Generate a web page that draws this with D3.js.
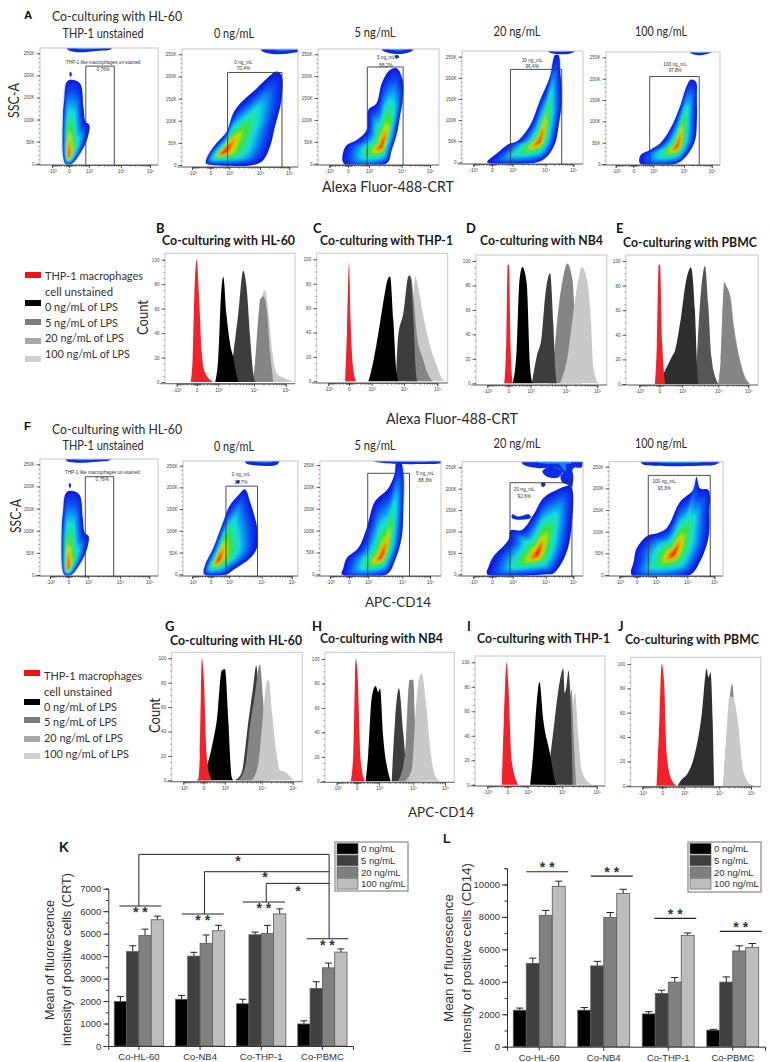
<!DOCTYPE html>
<html><head><meta charset="utf-8">
<script src="https://cdnjs.cloudflare.com/ajax/libs/d3/7.8.5/d3.min.js"></script>
<style>html,body{margin:0;padding:0;background:#fff}svg{display:block}</style></head>
<body><svg id="c" width="770" height="1062"></svg>
<script>
/* ---------- DATA: flow density outlines, [biex decade unit, SSC in K] ---------- */
const outlineA0=[[-.2,0],[-.35,106],[-.28,144],[-.12,186],[.13,190],[.55,182],[.72,129],[.83,95],[1.01,88],[.92,57],[.55,23],[.13,0]];
const outlineA1=[[-.23,4],[-.1,23],[.33,49],[.86,75],[1.13,117],[1.35,139],[1.89,173],[2.28,198],[2.56,211],[2.73,203],[2.73,147],[2.51,87],[2.34,41],[2.11,11],[1.78,0],[.16,0]];
const outlineA2=[[-.22,0],[-.14,39],[.41,54],[.89,77],[.97,123],[1.23,138],[1.39,184],[1.64,214],[1.85,218],[2.03,191],[2.03,146],[1.94,107],[1.85,69],[1.69,31],[1.54,1]];
const outlineA3=[[-.26,0],[-.18,6],[.23,21],[.79,43],[1.12,49],[1.53,88],[1.83,147],[2.16,203],[2.34,254],[2.46,254],[2.52,219],[2.58,147],[2.46,84],[2.34,45],[2.04,13],[1.73,0]];
const outlineA4=[[.33,2],[.37,21],[.83,33],[1.22,48],[1.54,80],[1.87,134],[2.09,181],[2.25,198],[2.43,193],[2.46,158],[2.46,95],[2.4,56],[2.16,25],[1.78,2]];
const outlineF1=[[-.35,0],[-.3,21],[.14,60],[.68,121],[1.02,159],[1.28,182],[1.48,196],[1.64,167],[1.87,102],[1.85,60],[1.64,37],[1.12,10],[.86,0]];
const outlineF2=[[-.38,0],[-.3,14],[-.12,37],[.48,60],[.91,105],[1.19,166],[1.59,197],[1.78,231],[1.83,258],[1.95,258],[2.03,231],[2.03,146],[1.98,85],[1.78,31],[1.54,0]];
const outlineF3=[[-.26,0],[-.18,18],[.06,41],[.79,80],[.9,103],[1.27,103],[1.63,139],[1.93,178],[2.4,197],[2.9,205],[2.93,107],[2.72,45],[2.28,2],[2.04,0]];
const outlineF4=[[-.29,0],[-.17,31],[0,62],[.6,92],[1.02,96],[1.34,108],[1.77,169],[2.22,196],[2.34,227],[2.47,200],[2.78,196],[2.82,146],[2.78,85],[2.47,31],[2.1,0]];
/* density core and ridge tip [u, K] */
const ridges={A0:[[-.03,14],[.0,58]],A1:[[.6,27],[1.9,78]],A2:[[1.39,40],[1.7,95]],A3:[[1.81,50],[2.02,92]],A4:[[1.78,42],[2.0,95]],
 F0:[[-.03,14],[.0,58]],F1:[[.32,29],[1.05,88]],F2:[[1.39,40],[1.72,88]],F3:[[1.74,47],[2.02,100]],F4:[[1.55,48],[1.9,88]]};
/* off-scale events along the top of each plot and stray islands */
const topBlobA0=[[-.1,270],[-.1,259],[.3,253],[1.3,256],[1.7,260],[1.7,270]];
const topBlobA1=[[2.05,270],[2.05,258],[2.6,250],[3.2,254],[3.6,258],[3.6,270]];
const topBlobA2=[[1.4,270],[1.4,260],[1.7,252],[2.1,252],[2.4,260],[2.4,270]];
const topBlobA3=[[2.1,270],[2.1,262],[2.5,256],[3,260],[3.1,270]];
const topBlobA4=[[2.2,270],[2.2,262],[2.5,255],[3,262],[3.1,270]];
const topBlobF0=[[-.1,270],[-.1,258],[.3,254],[1.3,256],[1.7,260],[1.7,270]];
const topBlobF1=[[1.5,270],[1.5,257],[2,250],[2.5,252],[2.6,262],[2.6,270]];
const topBlobF2=[[.9,270],[1.1,260],[1.6,254],[2.4,252],[3.6,258],[3.6,270]];
const topBlobF3=[[1.3,270],[1.3,258],[1.8,248],[2.5,246],[2.85,205],[2.95,205],[3,248],[3.3,250],[3.3,270]];
const topBlobF4=[[.2,270],[.3,256],[1,252],[2.4,252],[3.1,256],[3.3,270]];
const islandsA0=[[[.02,204],[.08,208],[.14,203],[.08,196]]];
const islandsA2=[[[1.78,246],[1.86,249],[1.92,244],[1.84,240]]];
const islandsF1=[[[1.2,212],[1.28,217],[1.33,214],[1.26,209]]];
const islandsF3=[[[.98,140],[1.15,135],[1.5,140],[1.55,132],[1.1,128],[.95,133]],[[1.9,240],[2.15,252],[2.6,240],[2.45,226],[2.05,228]],[[1.85,210],[1.92,215],[2,210],[1.92,204]],[[2.55,232],[2.95,240],[2.95,210],[2.6,215]]];
const islandsF0=islandsA0;
const gates={A0:[.84,1.79,221],A1:[.91,2.75,209],A2:[.92,2.05,221],A3:[.89,2.58,220],A4:[.82,2.55,205],
 F0:[.85,1.8,222],F1:[.82,1.87,203],F2:[.97,2.26,231],F3:[.87,2.95,214],F4:[.6,2.85,230]};
const gateNames=["THP-1 like macrophages un-stained","0 ng_mL","5 ng_mL","20 ng_mL","100 ng_mL"];
const gatePctA=["0,76%","70,4%","88,2%","96,4%","97,8%"];
const gatePctF=["0,76%","39,7%","88,3%","92,6%","93,3%"];
const doseHeads=["THP-1 unstained","0 ng/mL","5 ng/mL","20 ng/mL","100 ng/mL"];
const flowTickLabels=["-10³","0","10³","10⁴","10⁵"];
const sscTicks=[0,50,100,150,200,250];
const countTicks=[0,20,40,60,80,100];

/* ---------- DATA: histograms [decade unit, count], listed in painting order ---------- */
const histB=[["light",[[2,0],[2.14,53],[2.35,75],[2.46,56],[2.57,26],[2.72,7],[2.98,3],[3.24,0]]],
["mid",[[1.96,0],[2.03,15],[2.14,53],[2.2,68],[2.3,70],[2.4,59],[2.51,23],[2.61,0]]],
["dark",[[1.32,0],[1.42,23],[1.56,56],[1.7,91],[1.79,78],[1.89,37],[1.98,7],[2.03,0]]],
["black",[[.85,0],[1,20],[1.07,68],[1.14,86],[1.23,55],[1.33,31],[1.42,20],[1.5,7],[1.56,0]]],
["red",[[-.3,0],[-.2,20],[-.12,70],[0,100],[.11,70],[.23,25],[.38,8],[.77,0]]]];
const histC=[["light",[[2.1,0],[2.25,60],[2.34,86],[2.42,78],[2.55,58],[2.75,32],[2.93,17],[3.18,1],[3.25,0]]],
["mid",[[2.05,0],[2.15,50],[2.22,85],[2.3,65],[2.4,35],[2.55,20],[2.7,7],[2.85,0]]],
["dark",[[1.75,0],[1.82,37],[1.98,56],[2.13,86],[2.18,87],[2.28,53],[2.36,7],[2.4,0]]],
["black",[[.85,0],[.93,5],[1.21,40],[1.36,65],[1.52,85],[1.57,86],[1.67,50],[1.77,7],[1.82,0]]],
["red",[[-.19,0],[-.1,40],[0,97],[.07,50],[.16,15],[.31,0]]]];
const histD=[["mid",[[1.5,0],[1.64,19],[1.78,60],[1.92,87],[2.04,98],[2.21,84],[2.27,60],[2.4,20],[2.5,0]]],
["light",[[1.83,0],[2.07,25],[2.23,57],[2.39,84],[2.5,95],[2.66,86],[2.79,55],[2.87,14],[3.03,0]]],
["dark",[[1.03,0],[1.17,22],[1.31,38],[1.42,74],[1.55,90],[1.64,49],[1.69,14],[1.74,0]]],
["black",[[.2,0],[.37,27],[.49,82],[.63,95],[.82,82],[.97,14],[1.05,0]]],
["red",[[-.19,0],[-.1,33],[-.03,97],[.03,97],[.1,33],[.2,0]]]];
const histE=[["light",[[2,0],[2.08,19],[2.2,78],[2.3,76],[2.42,70],[2.52,49],[2.74,19],[2.96,3],[3.08,0]]],
["mid",[[2,0],[2.08,19],[2.2,83],[2.28,79],[2.39,72],[2.5,49],[2.72,19],[2.94,3],[3.05,0]]],
["slate",[[1.36,0],[1.4,17],[1.44,41],[1.54,82],[1.63,96],[1.72,65],[1.81,22],[1.95,3],[2,0]]],
["char",[[-.04,0],[.25,11],[.54,22],[.68,27],[.9,49],[1.12,86],[1.24,95],[1.35,60],[1.42,8],[1.44,0]]],
["red",[[-.22,0],[-.12,33],[-.03,97],[.03,97],[.13,33],[.25,0]]]];
const histG=[["dark",[[1.27,0],[1.45,6],[1.64,49],[1.77,77],[1.85,94],[1.91,77],[2,22],[2.09,0]]],
["mid",[[1.36,0],[1.55,11],[1.68,44],[1.82,71],[1.95,95],[2.04,68],[2.13,33],[2.27,0]]],
["light",[[1.73,0],[1.91,14],[2.04,52],[2.17,81],[2.23,82],[2.34,54],[2.48,22],[2.59,8],[2.75,7],[3.02,0]]],
["black",[[-.33,0],[.15,11],[.46,33],[.62,49],[.85,90],[1,91],[1.09,49],[1.18,3],[1.23,0]]],
["red",[[-.25,0],[-.17,22],[-.07,100],[.03,82],[.15,22],[.31,3],[.46,0]]]];
const histH=[["dark",[[1.37,0],[1.47,50],[1.58,76],[1.71,39],[1.8,10],[1.9,0]]],
["mid",[[1.56,0],[1.76,23],[1.83,61],[1.89,83],[2,83],[2.05,50],[2.1,17],[2.19,0]]],
["light",[[1.76,0],[1.95,9],[2.1,67],[2.2,86],[2.27,88],[2.4,64],[2.55,23],[2.7,4],[2.85,0]]],
["black",[[.4,0],[.52,23],[.67,68],[.85,78],[.97,73],[1.03,76],[1.12,37],[1.27,7],[1.34,0]]],
["red",[[-.3,0],[-.17,23],[-.05,100],[.03,91],[.18,17],[.37,0]]]];
const histI=[["light",[[2.17,0],[2.24,39],[2.37,75],[2.46,42],[2.56,12],[2.8,1],[2.9,0]]],
["mid",[[2.07,0],[2.17,53],[2.27,78],[2.33,39],[2.4,0]]],
["dark",[[1.55,0],[1.64,20],[1.78,53],[1.9,80],[2.03,95],[2.07,75],[2.12,80],[2.18,93],[2.24,67],[2.3,0]]],
["black",[[1.07,0],[1.16,26],[1.26,67],[1.34,84],[1.45,53],[1.64,26],[1.78,4],[1.83,0]]],
["red",[[-.28,0],[-.17,53],[-.03,100],[.05,83],[.21,20],[.54,0]]]];
const histJ=[["mid",[[2.12,0],[2.28,54],[2.4,84],[2.51,54],[2.65,16],[2.9,2],[3.1,0]]],
["light",[[2.12,0],[2.22,40],[2.32,73],[2.42,73],[2.58,54],[2.75,13],[3,0]]],
["char",[[.7,0],[.88,5],[1.07,9],[1.3,26],[1.5,59],[1.64,96],[1.69,89],[1.75,93],[1.81,54],[1.85,0]]],
["red",[[-.29,0],[-.18,40],[-.03,100],[.08,86],[.2,26],[.42,5],[.65,0]]]];
const legendLabels=["THP-1 macrophages","cell unstained","0 ng/mL of LPS","5 ng/mL of LPS","20 ng/mL of LPS","100 ng/mL of LPS"];

/* ---------- DATA: bar panels ---------- */
const groups=["Co-HL-60","Co-NB4","Co-THP-1","Co-PBMC"];
const doses=["0 ng/mL","5 ng/mL","20 ng/mL","100 ng/mL"];
const crtMeans=[[1980,4200,4920,5620],[2080,4000,4570,5130],[1880,4950,5010,5880],[980,2560,3480,4180]];
const crtErrors=[[220,260,280,160],[170,170,370,240],[200,120,360,220],[140,300,210,140]];
const cd14Means=[[2250,5130,8100,9880],[2250,4980,7970,9440],[2020,3280,3980,6860],[1020,3980,5900,6120]];
const cd14Errors=[[130,330,300,320],[160,280,300,260],[140,200,280,150],[50,320,320,240]];
const crtTicks=[0,1000,2000,3000,4000,5000,6000,7000];
const cd14Ticks=[0,2000,4000,6000,8000,10000];
const crtSigLevels=[6229,5873,6407,4775];
const cd14SigLevels=[10780,10513,7906,7105];
const crtBracketLevels=[8527,7756,7237];

/* ---------- styles & layout ---------- */
const svg=d3.select("#c");
const defs=svg.append("defs");
defs.append("filter").attr("id","b1").attr("x","-5%").attr("y","-5%").attr("width","110%").attr("height","110%").append("feGaussianBlur").attr("stdDeviation",1.1);
defs.append("filter").attr("id","b0").attr("x","-5%").attr("y","-5%").attr("width","110%").attr("height","110%").append("feGaussianBlur").attr("stdDeviation",.35);
const CAL="Lato, 'Open Sans', sans-serif", ARIAL="'Liberation Sans', Arial, sans-serif";
const histColors={red:"#f2232b",black:"#000",char:"#2e2e2e",dark:"#3c3c3c",slate:"#565656",mid:"#858585",light:"#c9c9c9"};
const densityColor=d3.scaleLinear().domain([0,.13,.3,.42,.55,.68,.78,.88,1]).range(["#0c1ee0","#0a46f2","#0a9cf2","#14dede","#28e28a","#46e024","#cfe400","#fb8a00","#ee1414"]);
function label(t,x,y,o={}){
  const n=svg.append("text").text(t).attr("x",0).attr("y",0).attr("font-family",o.font||CAL).attr("font-size",o.size||12)
   .attr("fill",o.fill||"#2a2a2a").attr("font-weight",o.bold?"bold":"normal").attr("text-anchor",o.anchor||"start");
  if(o.w) n.attr("textLength",o.w).attr("lengthAdjust","spacingAndGlyphs");
  n.attr("transform",`translate(${x},${y})`+(o.rot?` rotate(${o.rot})`:""));
  return n;
}
const biexMinor=[...d3.range(-.18,.2,.04),...[2,3,4,5,6,7,8,9].flatMap(m=>[Math.log10(m),-Math.log10(m),1+Math.log10(m),2+Math.log10(m)])];
let clipN=0;
function frameAxes(g,p,x,y,yTicks,yFmt,yMinor){
  g.append("rect").attr("x",p.f[0]).attr("y",p.f[2]).attr("width",p.f[1]-p.f[0]).attr("height",p.f[3]-p.f[2]).attr("fill","none").attr("stroke","#c6c6c6").attr("stroke-width",1);
  const xa=g.append("g").attr("transform",`translate(0,${p.f[3]})`);
  const xM=xa.append("g").call(d3.axisBottom(x).tickValues(biexMinor).tickSize(1.8).tickFormat(""));
  xM.select(".domain").remove();xM.selectAll("line").attr("stroke","#222").attr("stroke-width",.55);
  const xMaj=xa.append("g").call(d3.axisBottom(x).tickValues([-1,0,1,2,3]).tickSize(3).tickPadding(1.5).tickFormat((d,i)=>flowTickLabels[i]));
  xMaj.select(".domain").attr("stroke","#333").attr("stroke-width",.6);
  xMaj.selectAll("line").attr("stroke","#222").attr("stroke-width",.7);
  xMaj.selectAll("text").attr("font-size",5).attr("font-family",ARIAL).attr("fill","#444");
  xa.append("line").attr("x1",p.f[0]-5).attr("x2",p.f[1]).attr("stroke","#444").attr("stroke-width",.7);
  const ya=g.append("g").attr("transform",`translate(${p.f[0]},0)`);
  const yM=ya.append("g").call(d3.axisLeft(y).tickValues(yMinor).tickSize(1.6).tickFormat(""));
  yM.select(".domain").remove();yM.selectAll("line").attr("stroke","#555").attr("stroke-width",.5);
  const yMaj=ya.append("g").call(d3.axisLeft(y).tickValues(yTicks).tickSize(3.5).tickPadding(2).tickFormat(yFmt));
  yMaj.select(".domain").remove();
  yMaj.selectAll("line").attr("stroke","#222").attr("stroke-width",.7);
  yMaj.selectAll("text").attr("font-size",4.6).attr("font-family",ARIAL).attr("fill","#444");
}
function drawFlow(p){
  const g=svg.append("g");
  const x=d3.scaleLinear().domain([-1,0,1,2,3]).range(p.xt);
  const y=d3.scaleLinear().domain([0,250]).range([p.y0,p.y250]);
  const id="clip"+(clipN++);
  defs.append("clipPath").attr("id",id).append("rect").attr("x",p.f[0]).attr("y",p.f[2]).attr("width",p.f[1]-p.f[0]).attr("height",p.f[3]-p.f[2]);
  const d=g.append("g").attr("clip-path",`url(#${id})`).append("g").attr("filter","url(#b0)");
  const line=d3.line().curve(d3.curveCatmullRomClosed.alpha(.5));
  const toPx=pts=>pts.map(a=>[x(a[0]),y(a[1])]);
  (p.islands||[]).forEach(a=>d.append("path").attr("d",line(toPx(a))).attr("fill","#0c2ae6"));
  d.append("path").attr("d",line(toPx(p.top))).attr("fill","#0c2ae6");
  const tb=toPx(p.top),tc=[d3.mean(tb,a=>a[0]),p.f[2]];
  d.append("path").attr("d",line(tb.map(a=>[tc[0]+(a[0]-tc[0])*.55,tc[1]+(a[1]-tc[1])*.35]))).attr("fill","#0a9cf2").attr("opacity",.8);
  const px=toPx(p.outline),c=[x(p.ridge[0][0]),y(p.ridge[0][1])],tip=[x(p.ridge[1][0]),y(p.ridge[1][1])];
  const L=Math.hypot(tip[0]-c[0],tip[1]-c[1]),e=[(tip[0]-c[0])/L,(tip[1]-c[1])/L],n=[-e[1],e[0]];
  const inner=d.append("g").attr("filter","url(#b1)");
  d.append("path").attr("d",line(px)).attr("fill","#0c1ee0").lower();
  d3.range(1,30).forEach(i=>{
    const t=i/30,sa=Math.pow(1-t,1.05),sp=Math.pow(1-t,1.35)*.96;
    const pts=px.map(v=>{const dx=v[0]-c[0],dy=v[1]-c[1],a=dx*e[0]+dy*e[1],b=dx*n[0]+dy*n[1];
      return [c[0]+e[0]*a*sa+n[0]*b*sp,c[1]+e[1]*a*sa+n[1]*b*sp];});
    inner.append("path").attr("d",line(pts)).attr("fill",densityColor(Math.min(1,t*1.1)));
  });
  frameAxes(g,p,x,y,sscTicks,d=>d?d+"K":"0",d3.range(0,260,10));
  g.append("path").attr("d",`M${x(p.gate[0])},${p.f[3]}V${y(p.gate[2])}H${x(p.gate[1])}V${p.f[3]}`).attr("fill","none").attr("stroke","#3a3a3a").attr("stroke-width",.9);
  [[p.name,p.lab[1]],[p.pct,p.lab[2]]].forEach(a=>g.append("text").text(a[0]).attr("x",x(p.lab[0])).attr("y",y(a[1])+1.5).attr("text-anchor","middle").attr("font-size",4.7).attr("font-family",ARIAL).attr("fill","#333"));
}
function drawHist(p){
  const g=svg.append("g");
  const x=d3.scaleLinear().domain([-1,0,1,2,3]).range(p.xt);
  const y=d3.scaleLinear().domain([0,100]).range([p.y0,p.y100]);
  const a=d3.area().x(d=>x(d[0])).y0(y(0)).y1(d=>y(d[1])).curve(d3.curveMonotoneX);
  const s=g.append("g").attr("filter","url(#b0)");
  s.selectAll("path").data(p.series).join("path").attr("d",d=>a(d[1])).attr("fill",d=>histColors[d[0]]);
  frameAxes(g,p,x,y,countTicks,d=>d,d3.range(0,101,5));
}
/* flow layouts: frame [x0,x1,top,bottom], pixel of each x decade tick, y0, y250 */
const flowLayoutA=[
 {f:[40,158,48,165],xt:[52,69,89,121,150],y0:163.7,y250:53.3},
 {f:[182,298,49,167],xt:[192,210.3,229.3,260,289.3],y0:165,y250:54.3},
 {f:[318,439,49,165],xt:[329.3,348,369,401.7,430],y0:163.7,y250:54.3},
 {f:[462,583,51,164],xt:[473.3,492,512.7,545.7,573.3],y0:162.3,y250:56.7},
 {f:[606,720,52,165],xt:[615.7,633.3,653.3,684,711.7],y0:164,y250:57.3}];
const flowLayoutF=[
 {f:[40,158,459,576],xt:[50,68.3,88.3,120,149.3],y0:575,y250:464.3},
 {f:[183,298,461,576],xt:[192.3,210.7,229.3,261.7,291.7],y0:574.3,y250:465.7},
 {f:[320,441,461,576],xt:[330,349,368.3,402.3,430],y0:574.3,y250:465},
 {f:[462,583,461.7,576],xt:[473.3,492,512.7,545.7,573.3],y0:574.3,y250:467.3},
 {f:[609,723,461.7,576],xt:[619.3,636.7,656,687.3,714.3],y0:575,y250:466.7}];
const labelSpotA=[[1.44,230,214],[1.46,232,217],[1.52,242,225],[1.59,242,226],[1.71,234,219]];
const labelSpotF=[[1.44,231,216],[1.36,229,212],[2.82,230,214],[1.35,197,182],[1.26,215,199]];
const outsA=[outlineA0,outlineA1,outlineA2,outlineA3,outlineA4],topsA=[topBlobA0,topBlobA1,topBlobA2,topBlobA3,topBlobA4],islA=[islandsA0,null,islandsA2,null,null];
const outsF=[outlineA0,outlineF1,outlineF2,outlineF3,outlineF4],topsF=[topBlobF0,topBlobF1,topBlobF2,topBlobF3,topBlobF4],islF=[islandsF0,islandsF1,null,islandsF3,null];
flowLayoutA.forEach((p,i)=>drawFlow({...p,outline:outsA[i],top:topsA[i],islands:islA[i],ridge:ridges["A"+i],gate:gates["A"+i],name:gateNames[i],pct:gatePctA[i],lab:labelSpotA[i]}));
flowLayoutF.forEach((p,i)=>drawFlow({...p,outline:outsF[i],top:topsF[i],islands:islF[i],ridge:ridges["F"+i],gate:gates["F"+i],name:gateNames[i],pct:gatePctF[i],lab:labelSpotF[i]}));
/* histogram layouts */
[{f:[165,295,253.3,383.7],xt:[176.7,196.7,218.3,254,285.7],y0:382,y100:259.7,series:histB},
 {f:[316.7,447.7,253.3,383],xt:[328.3,349,371.7,404,437.3],y0:381.3,y100:259.3,series:histC},
 {f:[476,606.7,255,385],xt:[487.3,508.3,530.7,566,597.3],y0:383.3,y100:261,series:histD},
 {f:[626,758,255,385],xt:[639.3,659.3,682.3,718.3,748.3],y0:384,y100:261,series:histE},
 {f:[171.7,302.3,652.3,781.7],xt:[183.3,203.3,225,261.7,292.7],y0:780.3,y100:658.3,series:histG},
 {f:[325,454.3,652.3,782.3],xt:[336.7,356.7,379,413.3,445],y0:781.3,y100:659,series:histH},
 {f:[475,605,656,786],xt:[487.3,507.3,527.7,562.3,596.7],y0:784.7,y100:662.3,series:histI},
 {f:[630.7,760.7,657.3,786.7],xt:[642.3,662.3,684.3,719.3,751],y0:785.7,y100:664,series:histJ}
].forEach(drawHist);

/* letters, headings */
[["A",24,19],["F",24,430]].forEach(a=>label(a[0],a[1],a[2],{font:ARIAL,bold:true,size:11.5,fill:"#111"}));
[["B",156,233],["C",313,233],["D",466,233],["E",616,233],["G",165,631],["H",312,631],["I",467,631],["J",618,631]].forEach(a=>label(a[0],a[1],a[2],{bold:true,size:13,fill:"#111"}));
label("Co-culturing with HL-60",52,21,{size:14,w:130});
label("Co-culturing with HL-60",52,434,{size:14,w:130});
const headX=[103,234,375,517,661],headWs=[81,40,41,47,52],headYA=[38,38,37,36,36],headYF=[450,451,450,448,448];
doseHeads.forEach((t,i)=>{label(t,headX[i],headYA[i],{size:12.5,w:headWs[i],anchor:"middle"});label(t,headX[i],headYF[i],{size:12.5,w:headWs[i],anchor:"middle"});});
label("SSC-A",19,118,{size:14.5,w:35,rot:-90});
label("SSC-A",21,533,{size:14.5,w:34,rot:-90});
label("Alexa Fluor-488-CRT",322,192,{size:15,w:132});
label("Alexa Fluor-488-CRT",386,424,{size:15,w:132});
label("APC-CD14",365,607,{size:14,w:66});
label("APC-CD14",408,817,{size:14,w:66});
label("Count",148,335,{size:14.5,w:35,rot:-90});
label("Count",160,733,{size:14.5,w:35,rot:-90});
[["Co-culturing with HL-60",162,245,133],["Co-culturing with THP-1",320,245,133],["Co-culturing with NB4",480,245,123],["Co-culturing with PBMC",623,247,134],
 ["Co-culturing with HL-60",170,645,132],["Co-culturing with NB4",320,643,123],["Co-culturing with THP-1",477,643,133],["Co-culturing with PBMC",625,644,134]]
 .forEach(a=>label(a[0],a[1],a[2],{bold:true,size:13,w:a[3],fill:"#1a1a1a"}));
/* histogram legends */
function histLegend(sx,sy,tx,ty){
  const cols=["#f30f1a","#000","#7d7d7d","#a8a8a8","#d0d0d0"];
  cols.forEach((c,i)=>svg.append("rect").attr("x",sx).attr("y",sy[i]).attr("width",16).attr("height",6).attr("fill",c));
  const ws=[98,68,73,73,79,85];
  legendLabels.forEach((t,i)=>label(t,tx,ty[i],{size:12,w:ws[i],fill:"#333"}));
}
histLegend(25,[272,300,319,338,356],45,[280,296,311,327,342,358]);
histLegend(24,[670,699,717,736,753],44,[680,696,711,726,742,758]);

/* bar panels */
const barCols=["#000","#404040","#808080","#bdbdbd"];
function drawBars(o){
  const g=svg.append("g");
  const x=d3.scaleBand().domain(groups).range(o.xr);
  const y=d3.scaleLinear().domain([0,o.top]).range([o.y0,o.ytop]);
  const inner=d3.scaleBand().domain(doses).range([0,x.bandwidth()*.805]);
  const off=(x.bandwidth()-inner.range()[1])/2;
  groups.forEach((gr,gi)=>doses.forEach((ds,di)=>{
    const bx=x(gr)+off+inner(ds),w=inner.bandwidth(),v=o.means[gi][di],er=o.errs[gi][di],cx=bx+w/2;
    g.append("path").attr("d",`M${cx},${y(v)}V${y(v+er)}M${cx-w*.28},${y(v+er)}H${cx+w*.28}`).attr("stroke","#222").attr("stroke-width",1).attr("fill","none");
    g.append("rect").attr("x",bx).attr("y",y(v)).attr("width",w).attr("height",y(0)-y(v)).attr("fill",barCols[di]).attr("stroke","#5a5a5a").attr("stroke-width",.8);
  }));
  const ya=g.append("g").attr("transform",`translate(${o.xr[0]},0)`);
  const ym=ya.append("g").call(d3.axisLeft(y).tickValues(o.minor).tickSize(2.5).tickFormat(""));
  ym.selectAll("line").attr("stroke","#333");ym.select(".domain").attr("stroke","#333");
  const yM=ya.append("g").call(d3.axisLeft(y).tickValues(o.ticks).tickSize(5).tickPadding(2).tickFormat(d3.format("d")));
  yM.select(".domain").remove();yM.selectAll("line").attr("stroke","#333");
  yM.selectAll("text").attr("font-size",9.5).attr("font-family",ARIAL).attr("fill","#333");
  const xa=g.append("g").attr("transform",`translate(0,${o.y0})`);
  const xm=xa.append("g").call(d3.axisBottom(x).tickSize(4).tickPadding(o.pad));
  xm.select(".domain").attr("stroke","#333");xm.selectAll("line").attr("stroke","#333");
  xm.selectAll("text").attr("font-size",9.5).attr("font-family",ARIAL).attr("fill","#333");
  /* significance bars */
  groups.forEach((gr,i)=>{
    const cx=x(gr)+x.bandwidth()/2+o.sigDx[i],yy=y(o.sig[i]);
    g.append("line").attr("x1",cx-21).attr("x2",cx+21).attr("y1",yy).attr("y2",yy).attr("stroke","#222").attr("stroke-width",1.1);
    g.append("text").text("* *").attr("x",cx).attr("y",yy+o.starDy).attr("text-anchor","middle").attr("font-size",14).attr("font-weight","bold").attr("font-family",ARIAL).attr("fill","#333");
  });
  /* legend */
  const lg=g.append("g");
  lg.append("rect").attr("x",o.lg[0]).attr("y",o.lg[1]).attr("width",o.lg[2]).attr("height",o.lg[3]).attr("fill","none").attr("stroke","#888").attr("stroke-width",1.2);
  doses.forEach((ds,i)=>{
    const ry=o.lg[1]+1.5+i*11.7;
    lg.append("rect").attr("x",o.lg[0]+2).attr("y",ry).attr("width",21).attr("height",10.5).attr("fill",barCols[i]).attr("stroke","#555").attr("stroke-width",.6);
    lg.append("text").text(ds).attr("x",o.lg[0]+26).attr("y",ry+8.7).attr("font-size",9.5).attr("font-family",ARIAL).attr("fill","#333");
  });
  return {x,y};
}
const K=drawBars({xr:[108.3,353],y0:1046,ytop:888.7,top:7000,means:crtMeans,errs:crtErrors,ticks:crtTicks,minor:d3.range(0,7001,500),sig:crtSigLevels,sigDx:[1.5,2.7,2.7,5],starDy:11,pad:3,lg:[335,842,73,49]});
drawBars({xr:[507,765],y0:1046.7,ytop:868.2,top:11000,means:cd14Means,errs:cd14Errors,ticks:cd14Ticks,minor:d3.range(0,11001,1000),sig:cd14SigLevels,sigDx:[8,8,7,8],starDy:0.5,pad:4,lg:[688,842,73,50]});
/* CRT brackets */
const brDx=[0,4.4,5,6.7],brStarts=[crtBracketLevels[0],crtBracketLevels[1],crtBracketLevels[2]];
const cx=i=>K.x(groups[i])+K.x.bandwidth()/2+brDx[i];
const br=svg.append("g").attr("fill","none").attr("stroke","#222").attr("stroke-width",1);
br.append("path").attr("d",`M${cx(0)},${K.y(crtSigLevels[0])}V${K.y(brStarts[0])}H${cx(3)}V${K.y(crtSigLevels[3])}`);
br.append("path").attr("d",`M${cx(1)},${K.y(crtSigLevels[1])}V${K.y(brStarts[1])}H${cx(3)}`);
br.append("path").attr("d",`M${cx(2)},${K.y(crtSigLevels[2])}V${K.y(brStarts[2])}H${cx(3)}`);
[[238,866],[265,882],[298,896]].forEach(a=>label("*",a[0],a[1],{font:ARIAL,size:14,bold:true,anchor:"middle",fill:"#333"}));
label("K",59,852,{font:ARIAL,bold:true,size:14,fill:"#222"});
label("L",443,843,{font:ARIAL,bold:true,size:12.5,fill:"#222"});
label("Mean of fluorescence",54,1020,{font:ARIAL,size:13,w:120,rot:-90,fill:"#333"});
label("intensity of positive cells (CRT)",71,1046,{font:ARIAL,size:13,w:173,rot:-90,fill:"#333"});
label("Mean of fluorescence",453,1022,{font:ARIAL,size:13.5,w:128,rot:-90,fill:"#333"});
label("intensity of positive cells (CD14)",471,1053,{font:ARIAL,size:13.5,w:190,rot:-90,fill:"#333"});
</script></body></html>
